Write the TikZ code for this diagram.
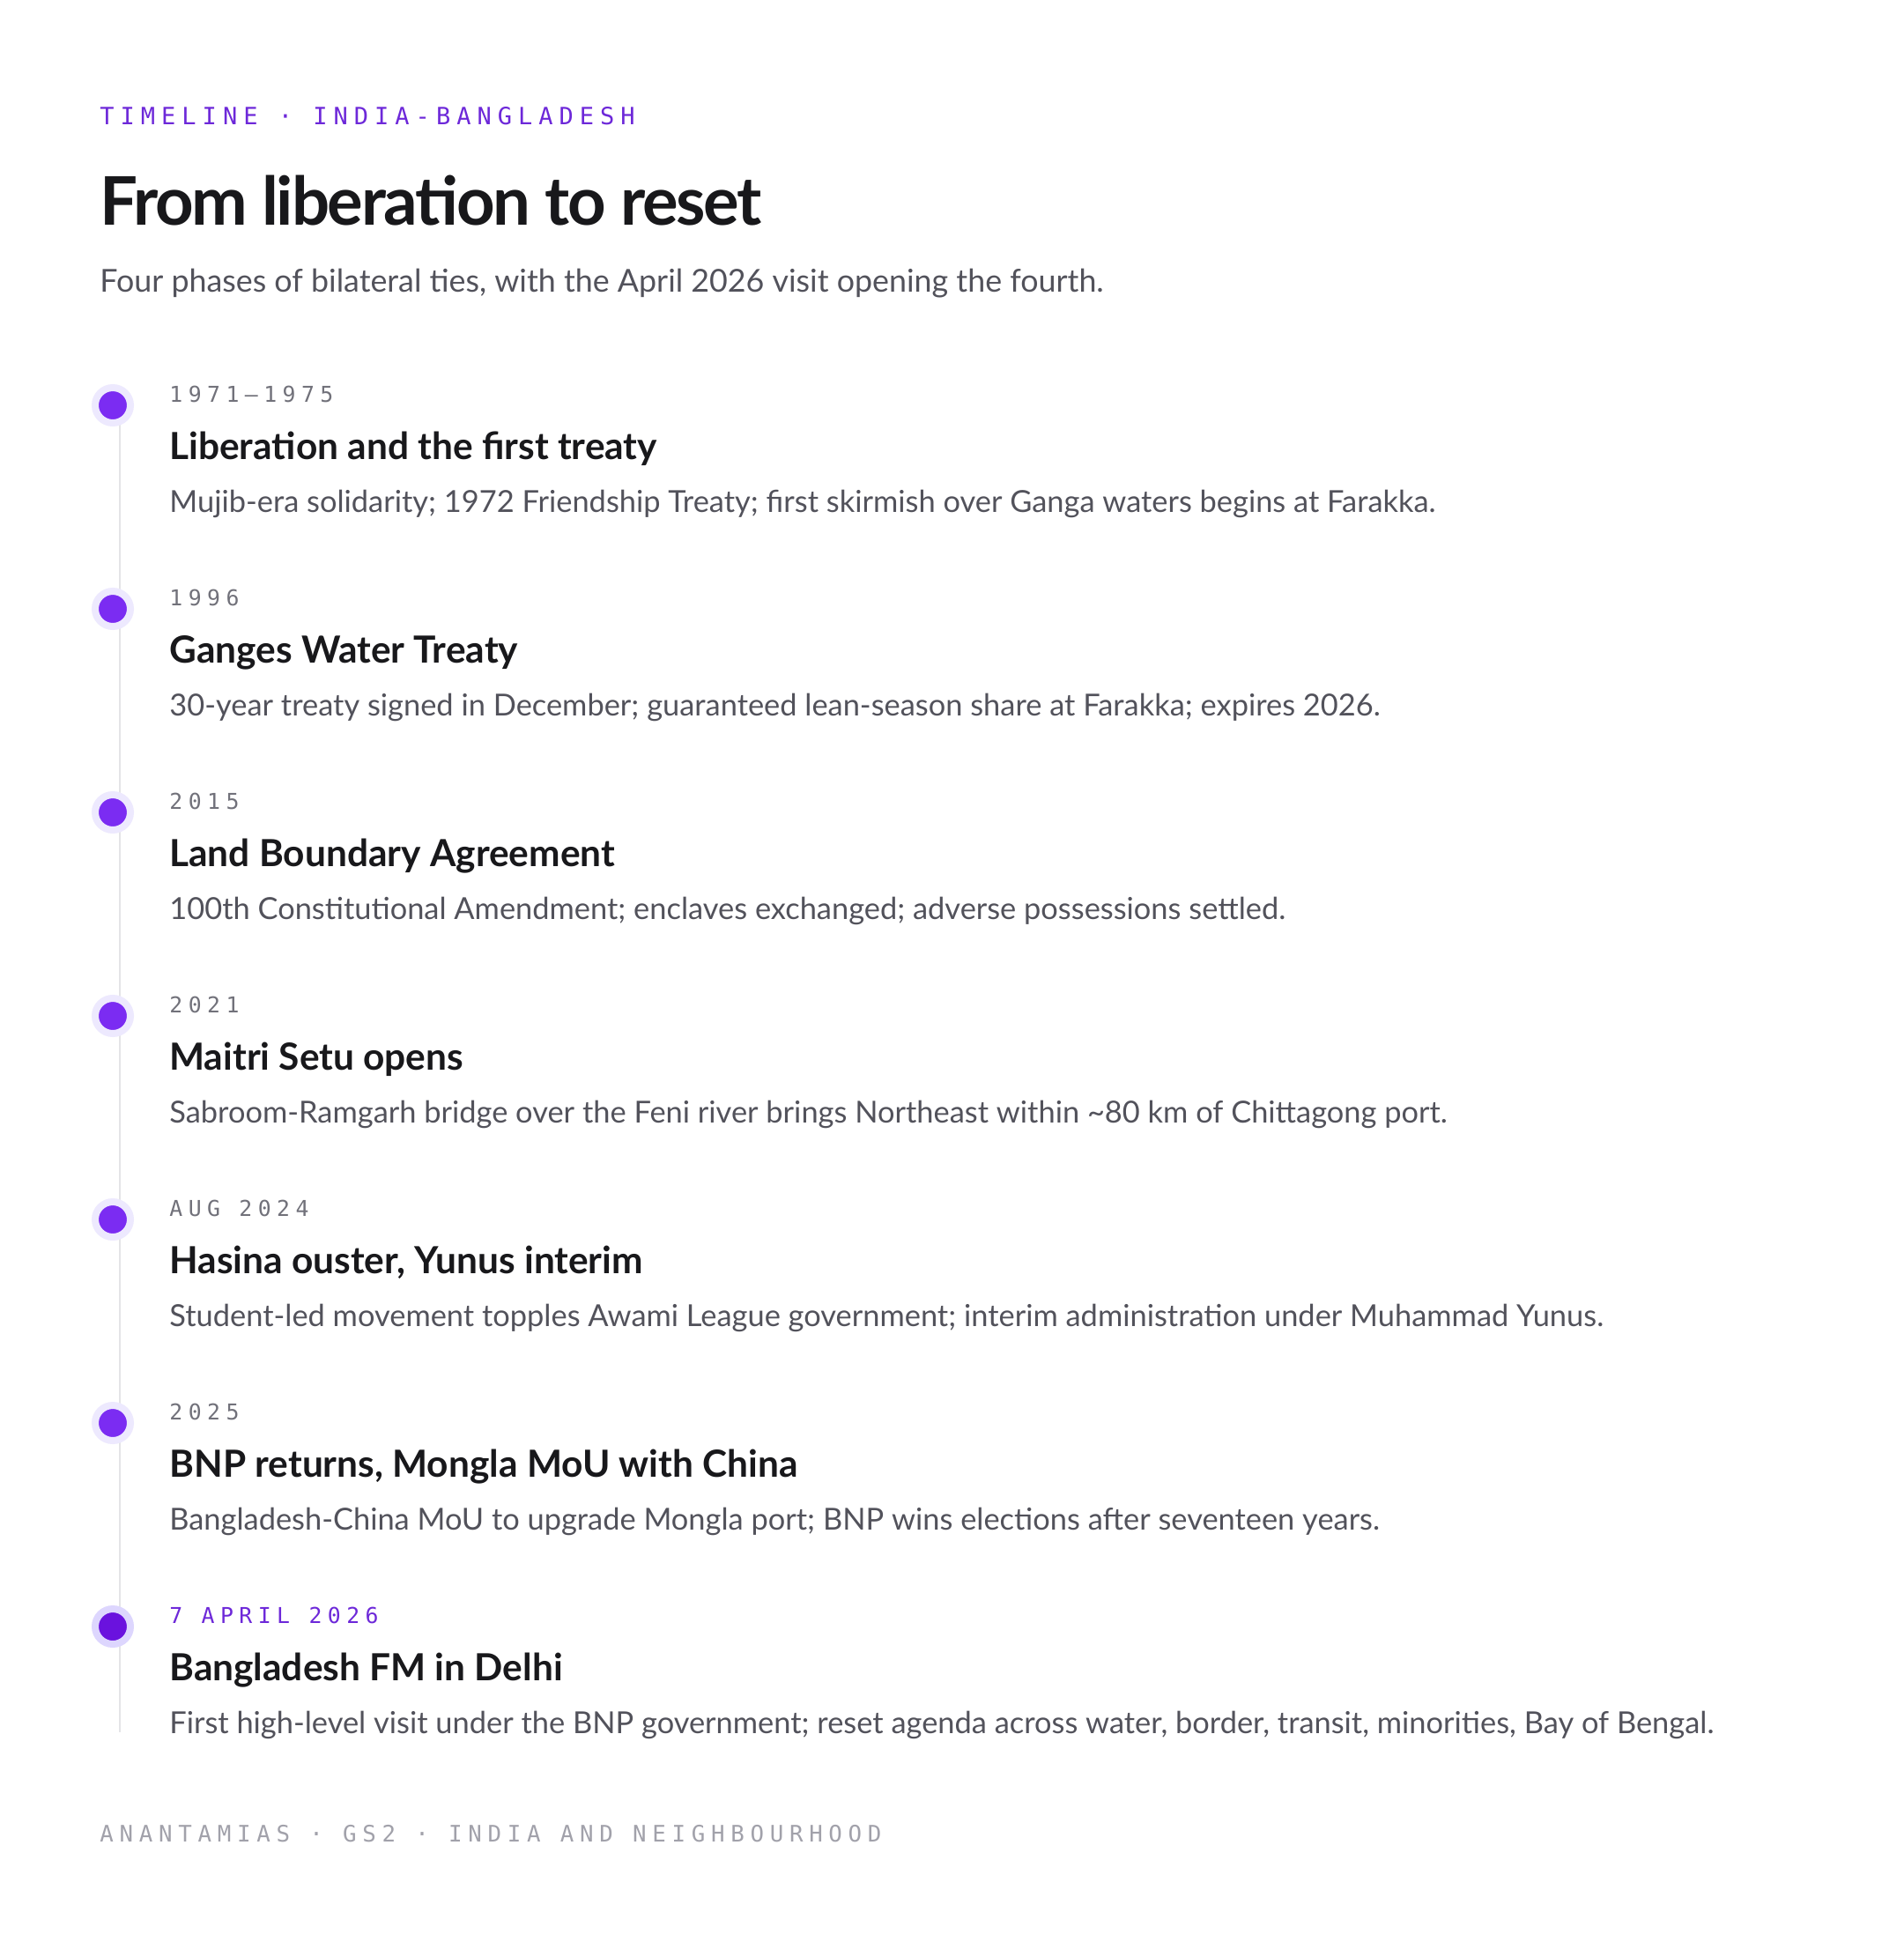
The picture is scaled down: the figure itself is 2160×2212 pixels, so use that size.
\documentclass[tikz,border=0pt]{standalone}
\usepackage{fontspec}
\setmainfont{Lato}
\newfontfamily\monofont{DejaVu Sans Mono}[LetterSpace=26]
\newfontfamily\headfont{Lato}[LetterSpace=-3]

\definecolor{accent}{HTML}{6D28D9}
\definecolor{dotfill}{HTML}{7B2CF2}
\definecolor{dotlast}{HTML}{6A12DE}
\definecolor{halo}{HTML}{EDE9FE}
\definecolor{halolast}{HTML}{DDD6FE}
\definecolor{ink}{HTML}{18181B}
\definecolor{body}{HTML}{52525B}
\definecolor{muted}{HTML}{71717A}
\definecolor{faint}{HTML}{A1A1AA}
\definecolor{rail}{HTML}{E4E4E7}

\tikzset{
  txt/.style={anchor=base west, inner sep=0pt},
  kicker/.style={txt, font=\monofont\fontsize{13.5}{16}\selectfont, text=accent},
  yearlbl/.style={txt, font=\monofont\fontsize{12.4}{15}\selectfont, text=muted},
  evtitle/.style={txt, font=\bfseries\fontsize{21.2}{25}\selectfont, text=ink},
  evtext/.style={txt, font=\fontsize{17.2}{21}\selectfont, text=body},
  dot/.style={circle, inner sep=0pt, minimum size=20pt, line width=4pt, draw=halo, fill=dotfill},
}

\begin{document}
\begin{tikzpicture}[x=0.5pt, y=-0.5pt]
    \fill[white] (0,0) rectangle (2160,2212);
    \useasboundingbox (0,0) rectangle (2160,2212);

    % header
    \node[kicker] (kick) at (113,141) {TIMELINE · INDIA-BANGLADESH};
    \node[txt, font=\headfont\bfseries\fontsize{38}{44}\selectfont, text=ink] (head) at (113,255) {From liberation to reset};
    \node[txt, font=\fontsize{17.9}{21}\selectfont, text=body] (sub) at (113,331) {Four phases of bilateral ties, with the April 2026 visit opening the fourth.};

    % rail
    \coordinate (railtop) at (136,460);
    \coordinate (railbot) at (136,1966);
    \draw[rail, line width=1pt] (railtop) -- (railbot);

    % 1971-1975
    \node[dot] (d1) at (128,460) {};
    \node[yearlbl] (y1) at (192,456) {1971–1975};
    \node[evtitle] (t1) at (192,521) {Liberation and the first treaty};
    \node[evtext] (s1) at (192,581) {Mujib-era solidarity; 1972 Friendship Treaty; first skirmish over Ganga waters begins at Farakka.};

    % 1996
    \node[dot] (d2) at (128,691) {};
    \node[yearlbl] (y2) at (192,687) {1996};
    \node[evtitle] (t2) at (192,752) {Ganges Water Treaty};
    \node[evtext] (s2) at (192,812) {30-year treaty signed in December; guaranteed lean-season share at Farakka; expires 2026.};

    % 2015
    \node[dot] (d3) at (128,922) {};
    \node[yearlbl] (y3) at (192,918) {2015};
    \node[evtitle] (t3) at (192,983) {Land Boundary Agreement};
    \node[evtext] (s3) at (192,1043) {100th Constitutional Amendment; enclaves exchanged; adverse possessions settled.};

    % 2021
    \node[dot] (d4) at (128,1153) {};
    \node[yearlbl] (y4) at (192,1149) {2021};
    \node[evtitle] (t4) at (192,1214) {Maitri Setu opens};
    \node[evtext] (s4) at (192,1274) {Sabroom-Ramgarh bridge over the Feni river brings Northeast within \textasciitilde80 km of Chittagong port.};

    % aug 2024
    \node[dot] (d5) at (128,1384) {};
    \node[yearlbl] (y5) at (192,1380) {AUG 2024};
    \node[evtitle] (t5) at (192,1445) {Hasina ouster, Yunus interim};
    \node[evtext] (s5) at (192,1505) {Student-led movement topples Awami League government; interim administration under Muhammad Yunus.};

    % 2025
    \node[dot] (d6) at (128,1615) {};
    \node[yearlbl] (y6) at (192,1611) {2025};
    \node[evtitle] (t6) at (192,1676) {BNP returns, Mongla MoU with China};
    \node[evtext] (s6) at (192,1736) {Bangladesh-China MoU to upgrade Mongla port; BNP wins elections after seventeen years.};

    % april 2026
    \node[dot, draw=halolast, fill=dotlast] (d7) at (128,1846) {};
    \node[yearlbl, text=accent] (y7) at (192,1842) {7 APRIL 2026};
    \node[evtitle] (t7) at (192,1907) {Bangladesh FM in Delhi};
    \node[evtext] (s7) at (192,1967) {First high-level visit under the BNP government; reset agenda across water, border, transit, minorities, Bay of Bengal.};

    % footer
    \node[yearlbl, text=faint, font=\monofont\fontsize{12.9}{15}\selectfont] (foot) at (113,2090) {ANANTAMIAS · GS2 · INDIA AND NEIGHBOURHOOD};
\end{tikzpicture}
\end{document}
